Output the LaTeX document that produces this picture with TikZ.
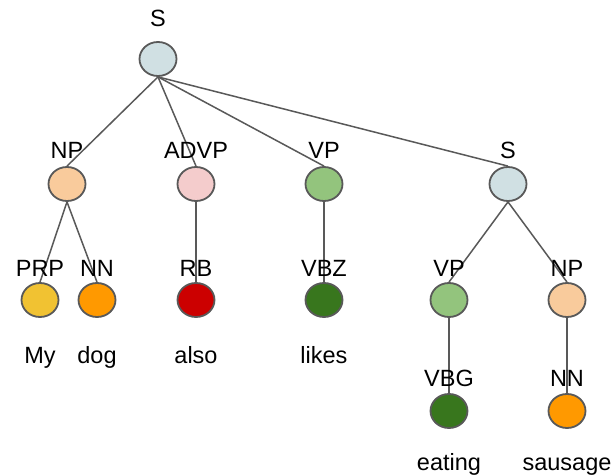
\documentclass[tikz,border=0pt]{standalone}
\usepackage{fontspec}
\setmainfont{Liberation Sans}
\usetikzlibrary{shapes.geometric}
\definecolor{cS}{HTML}{D0E0E3}
\definecolor{cNP}{HTML}{F9CB9C}
\definecolor{cADVP}{HTML}{F4CCCC}
\definecolor{cVP}{HTML}{93C47D}
\definecolor{cPRP}{HTML}{F1C232}
\definecolor{cNN}{HTML}{FF9900}
\definecolor{cRB}{HTML}{CC0000}
\definecolor{cVB}{HTML}{38761D}
\definecolor{edge}{HTML}{595959}
\tikzset{
  tnode/.style={ellipse, draw=edge, line width=1.8pt, inner sep=0pt, minimum width=37pt, minimum height=34pt},
  lbl/.style={inner sep=0pt, font=\fontsize{23.5}{28}\selectfont, text=black},
  link/.style={draw=edge, line width=1.5pt}
}
\begin{document}
\begin{tikzpicture}[x=1pt,y=-1pt]
\useasboundingbox[fill=white] (0,0) rectangle (614,476);
% nodes
\node[tnode, fill=cS] (s) at (158,59) {};
\node[tnode, fill=cNP] (np) at (67,184) {};
\node[tnode, fill=cADVP] (advp) at (196,184) {};
\node[tnode, fill=cVP] (vp) at (324,184) {};
\node[tnode, fill=cS] (s2) at (508,184) {};
\node[tnode, fill=cPRP] (prp) at (40,300) {};
\node[tnode, fill=cNN] (nn) at (97,300) {};
\node[tnode, fill=cRB] (rb) at (196,300) {};
\node[tnode, fill=cVB] (vbz) at (324,300) {};
\node[tnode, fill=cVP] (vp2) at (449,300) {};
\node[tnode, fill=cNP] (np2) at (567,300) {};
\node[tnode, fill=cVB] (vbg) at (449,411) {};
\node[tnode, fill=cNN] (nn2) at (567,411) {};
% edges
\draw[link] (s.south) -- (np.north);
\draw[link] (s.south) -- (advp.north);
\draw[link] (s.south) -- (vp.north);
\draw[link] (s.south) -- (s2.north);
\draw[link] (np.south) -- (prp.north);
\draw[link] (np.south) -- (nn.north);
\draw[link] (advp.south) -- (rb.north);
\draw[link] (vp.south) -- (vbz.north);
\draw[link] (s2.south) -- (vp2.north);
\draw[link] (s2.south) -- (np2.north);
\draw[link] (vp2.south) -- (vbg.north);
\draw[link] (np2.south) -- (nn2.north);
% labels
\node[lbl] (ls) at (158,18) {S};
\node[lbl] (lnp) at (67,150) {NP};
\node[lbl] (ladvp) at (196,150) {ADVP};
\node[lbl] (lvp) at (324,150) {VP};
\node[lbl] (ls2) at (508,150) {S};
\node[lbl] (lprp) at (40,268) {PRP};
\node[lbl] (lnn) at (97,268) {NN};
\node[lbl] (lrb) at (196,268) {RB};
\node[lbl] (lvbz) at (324,268) {VBZ};
\node[lbl] (lvp2) at (449,268) {VP};
\node[lbl] (lnp2) at (567,268) {NP};
\node[lbl] (lvbg) at (449,378) {VBG};
\node[lbl] (lnn2) at (567,378) {NN};
% words
\node[lbl, anchor=base] (wmy) at (40,363) {My};
\node[lbl, anchor=base] (wdog) at (97,363) {dog};
\node[lbl, anchor=base] (walso) at (196,363) {also};
\node[lbl, anchor=base] (wlikes) at (324,363) {likes};
\node[lbl, anchor=base] (weating) at (449,470) {eating};
\node[lbl, anchor=base] (wsausage) at (567,470) {sausage};
\end{tikzpicture}
\end{document}
